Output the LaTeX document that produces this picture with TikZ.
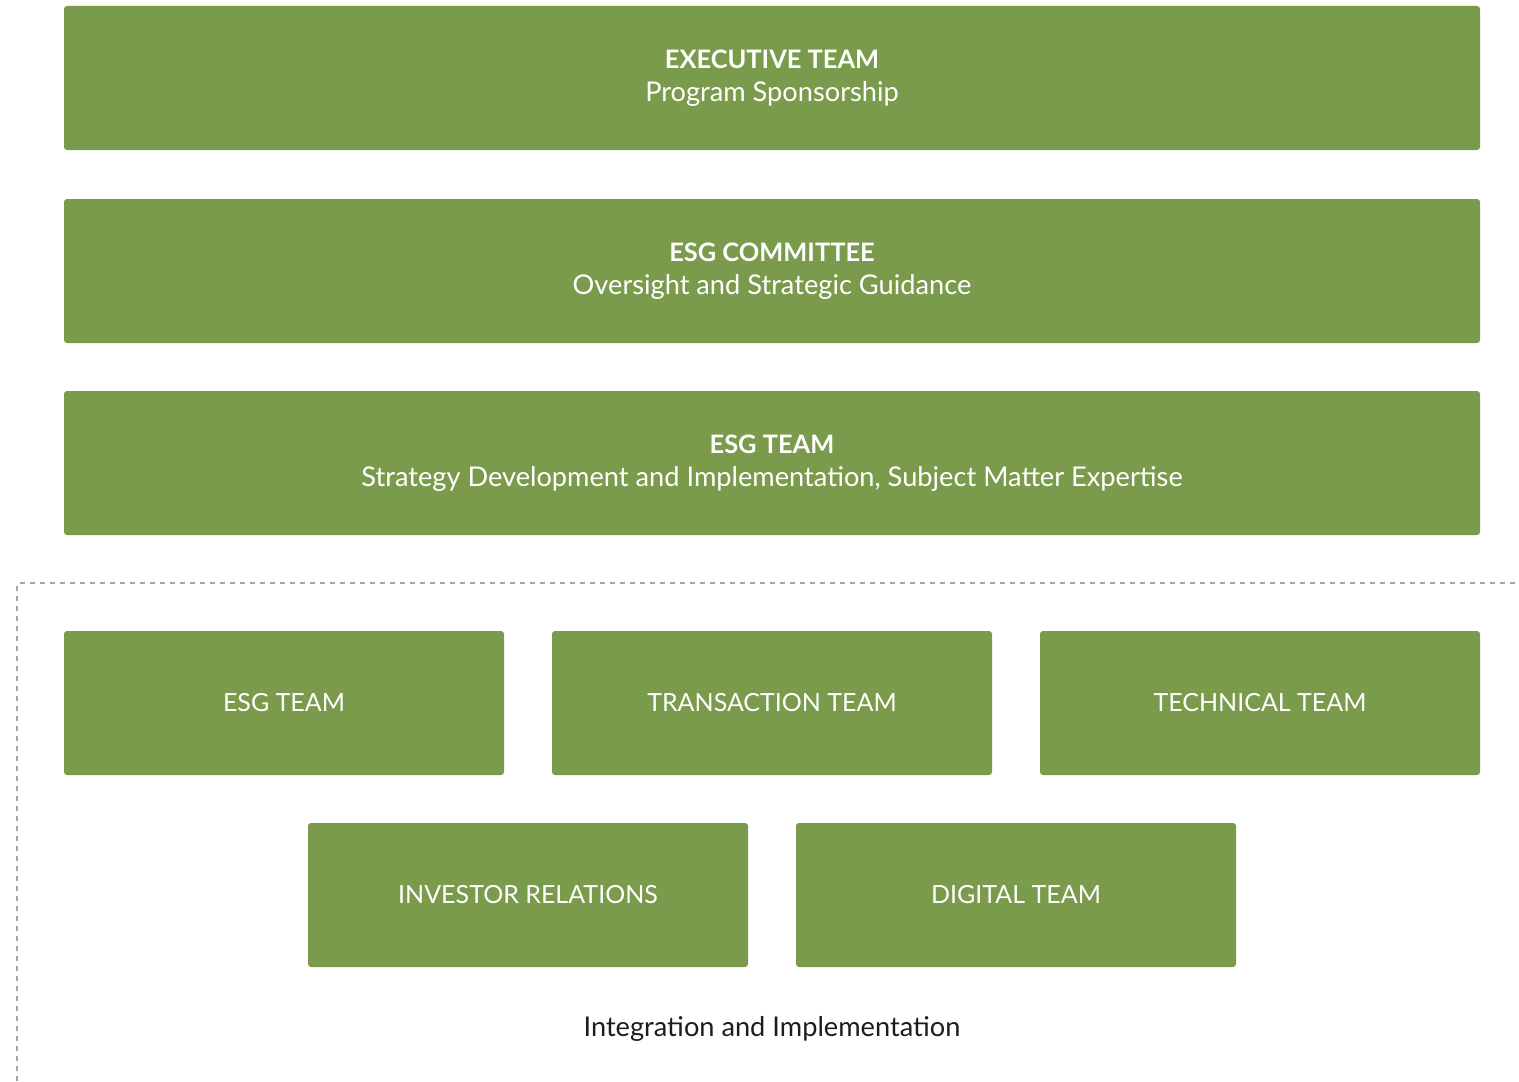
\documentclass[tikz,border=0pt]{standalone}
\usepackage{fontspec}
\setmainfont{Lato}
\usepackage{xcolor}
\definecolor{leaf}{HTML}{7A9B4B}
\definecolor{rule}{HTML}{A9A39F}
\definecolor{ink}{HTML}{1C1C1C}

\begin{document}
\begin{tikzpicture}[x=0.5pt,y=-0.5pt,
  wide/.style={fill=leaf, rounded corners=1.5pt, minimum width=708pt, minimum height=72pt,
    text=white, align=center, inner sep=0pt, font=\fontsize{13.6}{16.5}\selectfont},
  small/.style={fill=leaf, rounded corners=1.5pt, minimum width=220pt, minimum height=72pt,
    text=white, align=center, inner sep=0pt, font=\fontsize{12.5}{14}\selectfont}]
  \useasboundingbox (0,0) rectangle (1519,1081);

  % leadership blocks
  \node[wide] (exec) at (772,78) {{\fontsize{12.7}{14}\selectfont\bfseries EXECUTIVE TEAM}\\Program Sponsorship};
  \node[wide] (committee) at (772,271) {{\fontsize{12.7}{14}\selectfont\bfseries ESG COMMITTEE}\\Oversight and Strategic Guidance};
  \node[wide] (esg) at (772,463) {{\fontsize{12.7}{14}\selectfont\bfseries ESG TEAM}\\Strategy Development and Implementation, Subject Matter Expertise};

  % integration area
  \draw[rule, line width=0.75pt, dash pattern=on 2.5pt off 2.5pt, rounded corners=1.5pt]
    (17,1081)--(17,583)--(1516,583);

  \node[small] (esgteam) at (284,703) {ESG TEAM};
  \node[small] (transaction) at (772,703) {TRANSACTION TEAM};
  \node[small] (technical) at (1260,703) {TECHNICAL TEAM};

  \node[small] (investor) at (528,895) {INVESTOR RELATIONS};
  \node[small] (digital) at (1016,895) {DIGITAL TEAM};

  \node[text=ink, font=\fontsize{13.6}{14}\selectfont] (integration) at (772,1029) {Integration and Implementation};
\end{tikzpicture}
\end{document}
